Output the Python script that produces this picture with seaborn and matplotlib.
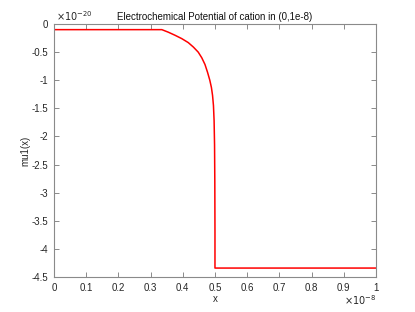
import numpy as np
import pandas as pd
import matplotlib
matplotlib.use("Agg")
import matplotlib.pyplot as plt
import seaborn as sns

sns.set_style("white")
plt.rcParams['font.family'] = ['Liberation Sans', 'DejaVu Sans']

# data (x in units of 1e-8, mu in units of 1e-20)
x_vals = [0.0, 0.335, 0.355, 0.376, 0.397, 0.417, 0.433, 0.448, 0.459, 0.469, 0.477,
          0.484, 0.489, 0.4925, 0.4953, 0.4973, 0.4987, 0.4995, 0.5, 0.5, 1.0]
mu_vals = [-0.1, -0.1, -0.145, -0.2, -0.26, -0.33, -0.41, -0.50, -0.60, -0.72, -0.86,
           -1.0, -1.13, -1.27, -1.45, -1.72, -2.15, -2.8, -3.7, -4.34, -4.34]
x_scale = 1e-8
y_scale = 1e-20
x_ticks = [0, 0.1, 0.2, 0.3, 0.4, 0.5, 0.6, 0.7, 0.8, 0.9, 1]
y_ticks = [-4.5, -4, -3.5, -3, -2.5, -2, -1.5, -1, -0.5, 0]

df = pd.DataFrame({"x": np.array(x_vals) * x_scale, "mu": np.array(mu_vals) * y_scale})

fig = plt.figure(figsize=(4.15, 3.12), dpi=100)
ax = fig.add_axes([0.130, 0.112, 0.776, 0.811])
sns.lineplot(data=df, x="x", y="mu", sort=False, estimator=None, color="red", linewidth=1.1, ax=ax)

ax.set_xlim(0, 1e-8)
ax.set_ylim(-4.5e-20, 0)
ax.set_xticks(np.array(x_ticks) * x_scale)
ax.set_xticklabels([f"{v:g}" for v in x_ticks])
ax.set_yticks(np.array(y_ticks) * y_scale)
ax.set_yticklabels([f"{v:g}" for v in y_ticks])

for s in ax.spines.values():
    s.set_color("#8a8a8a")
    s.set_linewidth(0.8)
ax.tick_params(direction="in", length=3.5, width=0.7, colors="#8a8a8a", labelcolor="#262626",
               labelsize=7, top=True, right=True, bottom=True, left=True, pad=4)

ax.text(0.005, 1.005, r"$\times10^{-20}$", transform=ax.transAxes, fontsize=7,
        color="#262626", ha="left", va="bottom")
ax.text(1.0, -0.062, r"$\times10^{-8}$", transform=ax.transAxes, fontsize=7,
        color="#262626", ha="right", va="top")

ax.set_xlabel("x", fontsize=7, color="#262626", labelpad=1)
ax.set_ylabel("mu1(x)", fontsize=7, color="#262626", labelpad=1)
ax.set_title("Electrochemical Potential of cation in (0,1e-8)", fontsize=7, color="#111111", pad=3)

fig.savefig("out.png", dpi=100)
